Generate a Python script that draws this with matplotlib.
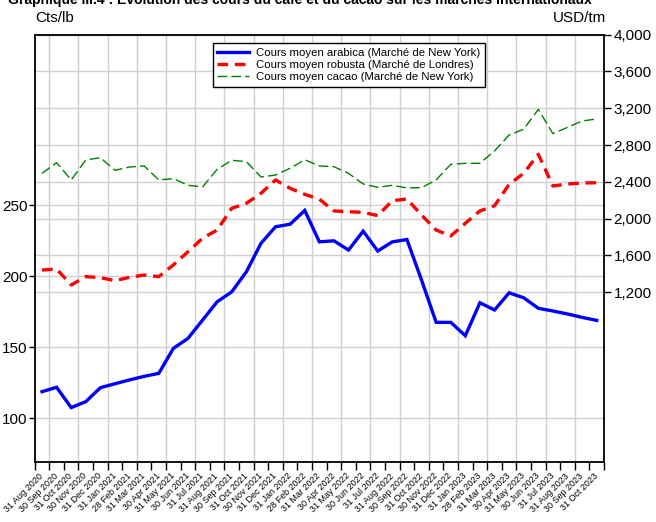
import matplotlib
matplotlib.use("Agg")
import matplotlib.pyplot as plt
import matplotlib.transforms as mtransforms
from matplotlib.lines import Line2D
from matplotlib.ticker import FuncFormatter
import numpy as np
import pandas as pd

plt.rcParams["font.family"] = ["Liberation Sans", "DejaVu Sans"]

# monthly averages, Aug 2020 .. Oct 2023
months = list(pd.date_range("2020-08-31", periods=39, freq="ME").strftime("%d %b %Y"))

arabica = [118.7, 121.8, 107.5, 111.7, 121.5, 124.3, 127.0, 129.5, 131.6, 149.2,
           156.2, 169.1, 182.0, 189.0, 203.1, 223.1, 234.8, 236.6, 246.3, 224.2,
           224.9, 218.4, 231.7, 217.7, 224.2, 225.8, 197.3, 167.5, 167.5, 158.1,
           181.3, 176.2, 188.3, 184.8, 177.4, 175.5, 173.4, 171.0, 168.9]

robusta = [1442, 1453, 1279, 1370, 1359, 1326, 1363, 1388, 1370, 1497,
           1641, 1787, 1877, 2113, 2167, 2276, 2421, 2330, 2265, 2212,
           2084, 2076, 2069, 2033, 2196, 2214, 2040, 1877, 1812, 1950,
           2084, 2141, 2374, 2493, 2700, 2355, 2377, 2388, 2391]

cacao = [2493, 2609, 2421, 2638, 2663, 2526, 2562, 2573, 2421, 2435,
         2363, 2345, 2537, 2635, 2620, 2453, 2475, 2548, 2641, 2573,
         2565, 2493, 2377, 2341, 2363, 2334, 2337, 2421, 2591, 2602,
         2602, 2736, 2910, 2972, 3189, 2924, 2993, 3062, 3084]

left_ticks = [100, 150, 200, 250]
right_ticks = [1200, 1600, 2000, 2400, 2800, 3200, 3600, 4000]

labels = ["Cours moyen arabica (Marché de New York)",
          "Cours moyen robusta (Marché de Londres)",
          "Cours moyen cacao (Marché de New York)"]

W, H = 656, 522
fig = plt.figure(figsize=(W / 100, H / 100), dpi=100)
ax_r = fig.add_axes([34.7 / W, 1 - 462 / H, (604 - 34.7) / W, (462 - 34.7) / H])
ax_l = ax_r.twinx()
# blue series on top of everything
ax_l.set_zorder(ax_r.get_zorder() + 1)
ax_l.patch.set_visible(False)

n = len(months)
x = np.arange(n) + 0.5

ax_r.set_xlim(0, n)
ax_r.set_ylim(-645, 4000)
ax_l.set_ylim(69.2, 370)

# grid, all drawn in the bottom axes
grid_kw = dict(color="#d0d0d0", linewidth=1.0, zorder=0)
for k in range(1, n, 2):
    ax_r.axvline(k, **grid_kw)
for v in right_ticks:
    ax_r.axhline(v, **grid_kw)
blend = mtransforms.blended_transform_factory(ax_r.transAxes, ax_l.transData)
for v in left_ticks:
    ax_r.add_line(Line2D([0, 1], [v, v], transform=blend, **grid_kw))

ax_l.plot(x, arabica, color="#0000ff", linewidth=2.4, solid_joinstyle="miter", zorder=3)
ax_r.plot(x, robusta, color="#ff0000", linewidth=2.4, dashes=(3.2, 2.0), zorder=2)
ax_r.plot(x, cacao, color="#008000", linewidth=1.0, dashes=(7, 3), zorder=2)

# y axes
ax_l.yaxis.tick_left()
ax_r.yaxis.tick_right()
ax_l.set_yticks(left_ticks)
ax_r.set_yticks(right_ticks)
ax_r.yaxis.set_major_formatter(FuncFormatter(lambda v, _p: f"{int(v):,}"))
ax_l.tick_params(axis="y", direction="out", length=4, width=1, labelsize=11, pad=1)
ax_r.tick_params(axis="y", direction="out", length=5, width=1, labelsize=11, pad=2)

# x axis: ticks at month boundaries, labels at month centres
ax_r.set_xticks(np.arange(n + 1))
ax_r.set_xticklabels([])
ax_r.set_xticks(x, minor=True)
ax_r.set_xticklabels(months, minor=True, rotation=45, ha="right", va="center",
                     rotation_mode="anchor", fontsize=6.5)
ax_r.tick_params(axis="x", which="major", direction="out", length=6, width=1)
ax_r.tick_params(axis="x", which="minor", length=0, pad=9)
ax_l.tick_params(axis="x", which="both", bottom=False, top=False,
                 labelbottom=False, labeltop=False)

for sp in ax_r.spines.values():
    sp.set_linewidth(1.3)
for sp in ax_l.spines.values():
    sp.set_visible(False)

handles = [Line2D([], [], color="#0000ff", linewidth=2.4),
           Line2D([], [], color="#ff0000", linewidth=2.4, dashes=(3.2, 2.0)),
           Line2D([], [], color="#008000", linewidth=1.0, dashes=(7, 3))]
leg = ax_l.legend(handles, labels, loc="upper left",
                  bbox_to_anchor=(212.7 / W, 1 - 43.3 / H),
                  bbox_transform=fig.transFigure, fontsize=8.2, frameon=True,
                  fancybox=False, edgecolor="black", framealpha=1,
                  borderpad=0.4, labelspacing=0.2, handlelength=2.8,
                  handletextpad=0.6, borderaxespad=0)
leg.get_frame().set_linewidth(1.0)

fig.text(35 / W, 1 - 18 / H, "Cts/lb", ha="left", va="center", fontsize=11)
fig.text(606 / W, 1 - 18 / H, "USD/tm", ha="right", va="center", fontsize=11)
fig.text(8 / W, 1 - 4 / H,
         "Graphique III.4 : Evolution des cours du café et du cacao sur les marchés internationaux",
         ha="left", va="baseline", fontsize=10, fontweight="bold")

fig.savefig("out.png", dpi=100)
